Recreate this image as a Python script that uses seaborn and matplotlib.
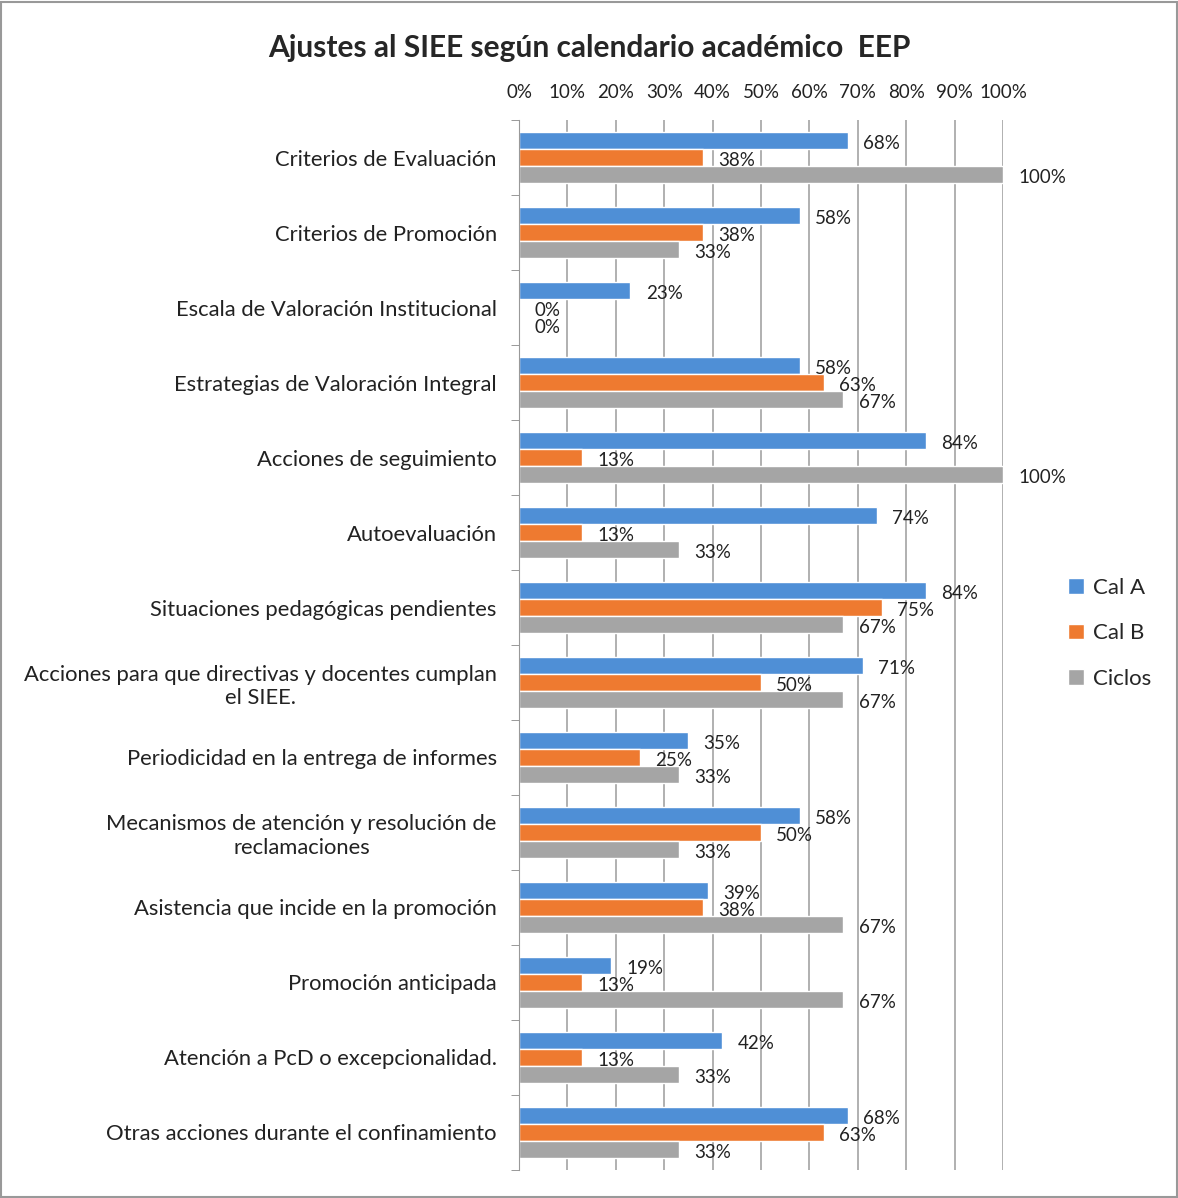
import pandas as pd
import matplotlib.pyplot as plt
import seaborn as sns

categories = [
    "Criterios de Evaluación",
    "Criterios de Promoción",
    "Escala de Valoración Institucional",
    "Estrategias de Valoración Integral",
    "Acciones de seguimiento",
    "Autoevaluación",
    "Situaciones pedagógicas pendientes",
    "Acciones para que directivas y docentes cumplan\nel SIEE.",
    "Periodicidad en la entrega de informes",
    "Mecanismos de atención y resolución de\nreclamaciones",
    "Asistencia que incide en la promoción",
    "Promoción anticipada",
    "Atención a PcD o excepcionalidad.",
    "Otras acciones durante el confinamiento",
]
cal_a = [68, 58, 23, 58, 84, 74, 84, 71, 35, 58, 39, 19, 42, 68]
cal_b = [38, 38, 0, 63, 13, 13, 75, 50, 25, 50, 38, 13, 13, 63]
ciclos = [100, 33, 0, 67, 100, 33, 67, 67, 33, 33, 67, 67, 33, 33]
series = ["Cal A", "Cal B", "Ciclos"]
colors = ["#4F8FD6", "#EE7A30", "#A5A5A5"]
x_ticks = list(range(0, 101, 10))

df = pd.DataFrame({"Categoria": categories, "Cal A": cal_a, "Cal B": cal_b, "Ciclos": ciclos})
long = df.melt(id_vars="Categoria", var_name="Serie", value_name="Valor")

sns.set_style("white")
plt.rcParams['font.family'] = ['Lato', 'DejaVu Sans']

fig = plt.figure(figsize=(11.78, 11.98), dpi=100)
ax = fig.add_axes([0.4406, 0.0234, 0.4109, 0.8764])

sns.barplot(data=long, y="Categoria", x="Valor", hue="Serie", orient="h",
            palette=colors, width=0.68, ax=ax, errorbar=None, saturation=1,
            legend=True)

for container, vals in zip(ax.containers, [cal_a, cal_b, ciclos]):
    for bar, v in zip(container, vals):
        ax.annotate(f"{v}%", (bar.get_width(), bar.get_y() + bar.get_height() / 2),
                    xytext=(11, -2), textcoords="offset points", ha="left", va="center",
                    fontsize=13.5, color="#222222")

ax.set_xlim(0, 100)
ax.set_ylim(len(categories) - 0.5, -0.5)
ax.set_xticks(x_ticks)
ax.set_xticklabels([f"{t}%" for t in x_ticks], fontsize=13.5, color="#222222")
ax.xaxis.tick_top()
ax.tick_params(axis="x", length=0, pad=14)
ax.set_yticks(range(len(categories)))
ax.set_yticklabels(categories, fontsize=15.8, color="#222222", multialignment="center")
ax.tick_params(axis="y", length=0, pad=16)
ax.set_yticks([i - 0.5 for i in range(len(categories) + 1)], minor=True)
ax.tick_params(axis="y", which="minor", length=6, color="#888888", left=True)
ax.grid(axis="x", color="#AAAAAA", linewidth=1.3)
ax.grid(axis="y", visible=False)
ax.set_axisbelow(True)
ax.set_xlabel("")
ax.set_ylabel("")
for side in ["top", "right", "bottom"]:
    ax.spines[side].set_visible(False)
ax.spines["left"].set_color("#999999")

ax.legend(loc="center left", bbox_to_anchor=(1.093, 0.511), frameon=False,
          fontsize=16, handlelength=0.7, handleheight=0.7, labelspacing=1.15,
          handletextpad=0.4)

fig.suptitle("Ajustes al SIEE según calendario académico  EEP", y=0.972,
             fontsize=21.5, fontweight="bold", x=0.5)

fig.patches.append(plt.Rectangle((0.001, 0.001), 0.998, 0.997, transform=fig.transFigure,
                                 fill=False, edgecolor="#999999", linewidth=1.5))

plt.savefig("out.png", dpi=100)
